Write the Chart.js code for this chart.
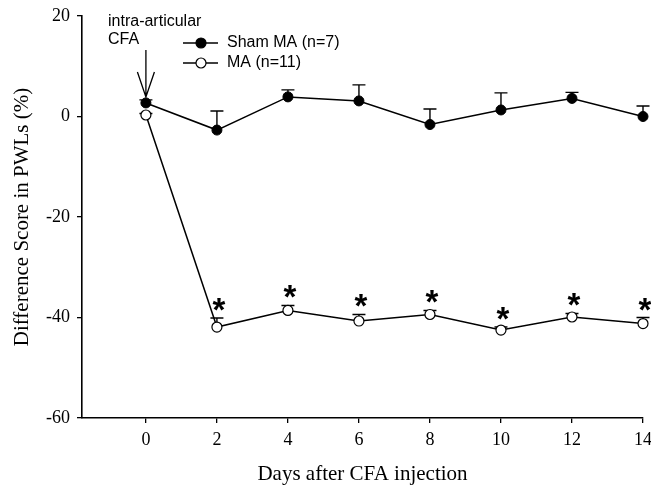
<!DOCTYPE html>
<html>
<head>
<meta charset="utf-8">
<script src="https://cdn.jsdelivr.net/npm/chart.js@4.4.1/dist/chart.umd.min.js"></script>
<style>
  html, body { margin: 0; padding: 0; background: #fff; }
  #wrap { width: 651px; height: 487px; }
</style>
</head>
<body>
<div id="wrap"><canvas id="chart" width="651" height="487"></canvas></div>
<script>
// data
const days = [0, 2, 4, 6, 8, 10, 12, 14];
const shamMA = [2.7, -2.7, 3.9, 3.1, -1.6, 1.3, 3.6, 0.0];
const shamErr = [0.6, 3.8, 1.4, 3.2, 3.1, 3.4, 1.2, 2.1];
const ma = [0.3, -41.9, -38.6, -40.7, -39.4, -42.5, -39.9, -41.2];
const maErr = [0.3, 1.8, 1.0, 1.3, 0.8, 0.6, 0.7, 1.2];
const significant = [false, true, true, true, true, true, true, true];
const yTicks = [20, 0, -20, -40, -60];

const serif = '"Liberation Serif", "Times New Roman", serif';
const sans = 'Arial, "Liberation Sans", sans-serif';

// upward error bars (behind the markers)
const errorBars = {
  id: 'errorBars',
  beforeDatasetsDraw(chart) {
    const ctx = chart.ctx;
    const xs = chart.scales.x, ys = chart.scales.y;
    ctx.save();
    ctx.strokeStyle = '#000';
    ctx.lineWidth = 1.4;
    chart.data.datasets.forEach(ds => {
      ds.data.forEach((p, i) => {
        const x = xs.getPixelForValue(p.x);
        const y0 = ys.getPixelForValue(p.y);
        const y1 = ys.getPixelForValue(p.y + ds.err[i]);
        ctx.beginPath();
        ctx.moveTo(x, y0);
        ctx.lineTo(x, y1);
        ctx.moveTo(x - 6.5, y1);
        ctx.lineTo(x + 6.5, y1);
        ctx.stroke();
      });
    });
    ctx.restore();
  }
};

// significance stars, legend and injection arrow
const extras = {
  id: 'extras',
  afterDatasetsDraw(chart) {
    const ctx = chart.ctx;
    const xs = chart.scales.x, ys = chart.scales.y;
    ctx.save();
    ctx.strokeStyle = '#000';
    ctx.fillStyle = '#000';

    // stars over MA
    ctx.font = 'bold 33px ' + sans;
    ctx.textAlign = 'center';
    ctx.textBaseline = 'alphabetic';
    days.forEach((d, i) => {
      if (!significant[i]) return;
      const x = xs.getPixelForValue(d) + 2;
      const y = ys.getPixelForValue(ma[i] + maErr[i]) + 3;
      ctx.fillText('*', x, y);
    });

    // annotation text + arrow
    ctx.font = '16px ' + sans;
    ctx.textAlign = 'left';
    ctx.textBaseline = 'middle';
    ctx.fillText('intra-articular', 108, 22);
    ctx.fillText('CFA', 108, 40);
    const ax = xs.getPixelForValue(0);
    ctx.lineWidth = 1.3;
    ctx.beginPath();
    ctx.moveTo(ax, 50);
    ctx.lineTo(ax, 97);
    ctx.moveTo(ax - 8.5, 72);
    ctx.lineTo(ax, 97);
    ctx.lineTo(ax + 8.5, 72);
    ctx.stroke();

    // legend
    chart.data.datasets.forEach((ds, k) => {
      const ly = 43 + k * 20;
      ctx.lineWidth = 1.5;
      ctx.beginPath();
      ctx.moveTo(183, ly);
      ctx.lineTo(218, ly);
      ctx.stroke();
      ctx.beginPath();
      ctx.arc(201, ly, 5, 0, Math.PI * 2);
      ctx.fillStyle = ds.pointBackgroundColor;
      ctx.fill();
      ctx.lineWidth = 1.2;
      ctx.stroke();
      ctx.fillStyle = '#000';
      ctx.fillText(ds.label, 227, ly);
    });
    ctx.restore();
  }
};

new Chart(document.getElementById('chart'), {
  type: 'scatter',
  data: {
    datasets: [
      {
        label: 'Sham MA (n=7)',
        data: days.map((d, i) => ({ x: d, y: shamMA[i] })),
        err: shamErr,
        showLine: true,
        clip: false,
        borderColor: '#000',
        borderWidth: 1.5,
        pointBackgroundColor: '#000',
        pointBorderColor: '#000',
        pointRadius: 5,
        pointBorderWidth: 1
      },
      {
        label: 'MA (n=11)',
        data: days.map((d, i) => ({ x: d, y: ma[i] })),
        err: maErr,
        showLine: true,
        clip: false,
        borderColor: '#000',
        borderWidth: 1.5,
        pointBackgroundColor: '#fff',
        pointBorderColor: '#000',
        pointRadius: 5,
        pointBorderWidth: 1.2
      }
    ]
  },
  options: {
    responsive: false,
    animation: false,
    layout: { padding: { left: 0, right: 8, top: 16, bottom: 0 } },
    plugins: { legend: { display: false }, tooltip: { enabled: false } },
    scales: {
      x: {
        type: 'linear',
        min: -1.8,
        max: 14,
        afterBuildTicks(axis) { axis.ticks = days.map(v => ({ value: v })); },
        afterFit(axis) { axis.height = 69; axis.paddingRight = 0; axis.paddingLeft = 0; },
        grid: { drawOnChartArea: false, drawTicks: true, tickLength: 5, color: '#000', lineWidth: 1.3 },
        border: { color: '#000', width: 1.6 },
        ticks: { color: '#000', font: { family: serif, size: 18 }, padding: 6, maxRotation: 0 },
        title: {
          display: true,
          text: 'Days after CFA injection',
          color: '#000',
          font: { family: serif, size: 21 },
          padding: { top: 0, bottom: 0 }
        }
      },
      y: {
        min: -60,
        max: 20,
        afterBuildTicks(axis) { axis.ticks = yTicks.map(v => ({ value: v })); },
        afterFit(axis) { axis.width = 82; axis.paddingTop = 0; axis.paddingBottom = 0; },
        grid: { drawOnChartArea: false, drawTicks: true, tickLength: 5, color: '#000', lineWidth: 1.3 },
        border: { color: '#000', width: 1.6 },
        ticks: { color: '#000', font: { family: serif, size: 18 }, padding: 7 },
        title: {
          display: true,
          text: 'Difference Score in PWLs (%)',
          color: '#000',
          font: { family: serif, size: 21 },
          padding: { top: 10, bottom: 0 }
        }
      }
    }
  },
  plugins: [errorBars, extras]
});
</script>
</body>
</html>
